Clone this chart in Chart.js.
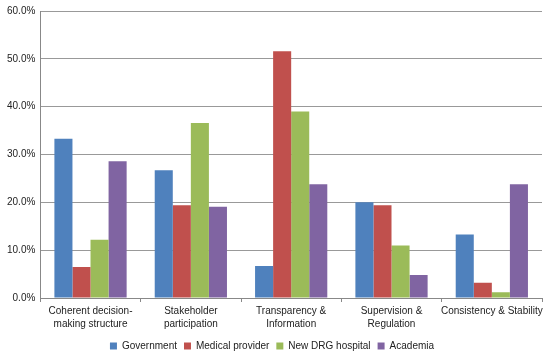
<!DOCTYPE html>
<html>
<head>
<meta charset="utf-8">
<script src="https://cdn.jsdelivr.net/npm/chart.js@4"></script>
<style>
  html, body { margin: 0; padding: 0; background: #fff; }
  #wrap { width: 550px; height: 353px; }
</style>
</head>
<body>
<div id="wrap"><canvas id="chart"></canvas></div>
<script>
// categories and series (percent)
const categories = [
  ["Coherent decision-", "making structure"],
  ["Stakeholder", "participation"],
  ["Transparency &", "Information"],
  ["Supervision &", "Regulation"],
  "Consistency & Stability"
];
const government = [33.3, 26.7, 6.7, 20.0, 13.3];
const medicalProvider = [6.5, 19.4, 51.6, 19.4, 3.2];
const newDrgHospital = [12.2, 36.6, 39.0, 11.0, 1.2];
const academia = [28.6, 19.1, 23.8, 4.8, 23.8];
const yTicks = [0, 10, 20, 30, 40, 50, 60];

const font = { family: "'Liberation Sans', Arial, sans-serif", size: 10 };

const ds = (label, data, color) => ({
  label: label,
  data: data,
  backgroundColor: color,
  borderWidth: 0,
  categoryPercentage: 0.72,
  barPercentage: 1.0
});

new Chart(document.getElementById("chart"), {
  type: "bar",
  data: {
    labels: categories,
    datasets: [
      ds("Government", government, "#4F81BD"),
      ds("Medical provider", medicalProvider, "#C0504D"),
      ds("New DRG hospital", newDrgHospital, "#9BBB59"),
      ds("Academia", academia, "#8064A2")
    ]
  },
  options: {
    responsive: true,
    maintainAspectRatio: false,
    animation: false,
    layout: { padding: { top: 6, right: 8, left: 2, bottom: -8 } },
    plugins: {
      tooltip: { enabled: false },
      legend: {
        position: "bottom",
        labels: {
          boxWidth: 7,
          boxHeight: 7,
          padding: 7,
          color: "#222",
          font: font
        }
      }
    },
    scales: {
      x: {
        grid: {
          offset: true,
          drawOnChartArea: false,
          drawTicks: true,
          tickLength: 4,
          color: "#888"
        },
        border: { color: "#888" },
        ticks: {
          color: "#222",
          font: Object.assign({ lineHeight: 1.3 }, font),
          maxRotation: 0,
          autoSkip: false,
          padding: 3
        }
      },
      y: {
        min: 0,
        max: 60,
        afterBuildTicks: axis => { axis.ticks = yTicks.map(v => ({ value: v })); },
        grid: { color: "#999", drawTicks: false },
        border: { color: "#888" },
        ticks: {
          color: "#222",
          font: font,
          padding: 5,
          callback: v => v.toFixed(1) + "%"
        }
      }
    }
  }
});
</script>
</body>
</html>
